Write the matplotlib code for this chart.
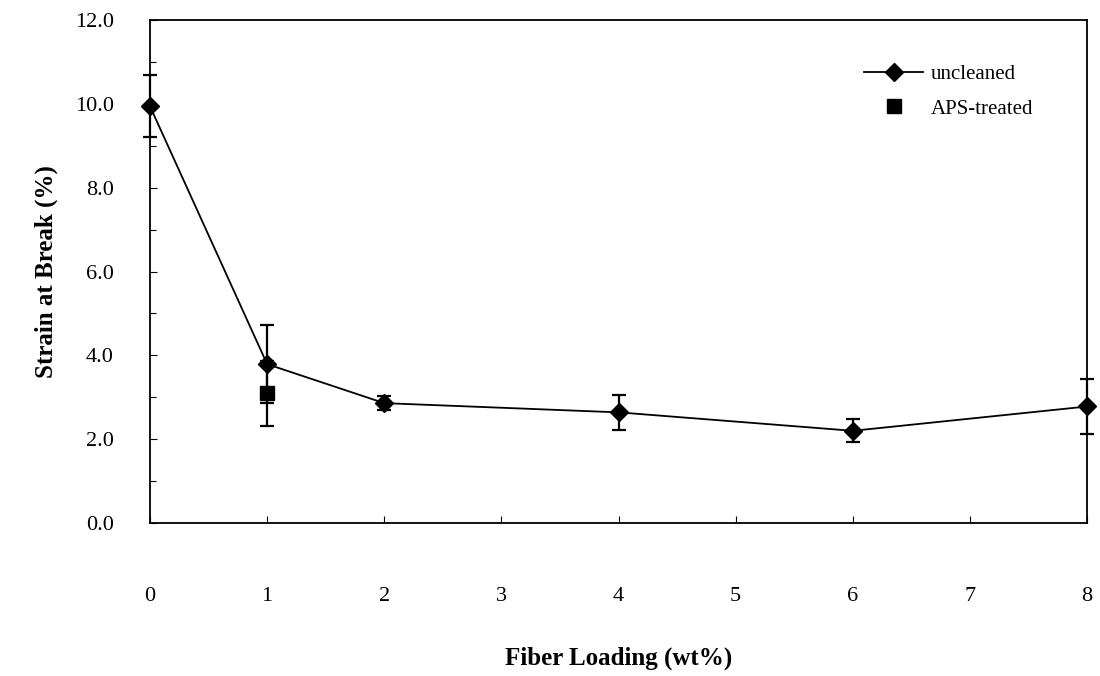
import matplotlib
matplotlib.use("Agg")
import matplotlib.pyplot as plt
from matplotlib.ticker import MultipleLocator, FormatStrFormatter

plt.rcParams['font.family'] = ['Liberation Serif', 'DejaVu Serif']

# Fiber loading (wt%) and strain at break (%) with standard deviations
loading_uncleaned = [0, 1, 2, 4, 6, 8]
strain_uncleaned = [9.94, 3.79, 2.86, 2.64, 2.20, 2.78]
err_uncleaned = [0.74, 0.93, 0.16, 0.41, 0.27, 0.65]

loading_aps = [1]
strain_aps = [3.09]
err_aps = [0.78]

x_ticks = [0, 1, 2, 3, 4, 5, 6, 7, 8]
y_ticks = [0, 2, 4, 6, 8, 10, 12]

fig = plt.figure(figsize=(11, 6.76), dpi=100)
ax = fig.add_axes([0.1364, 0.2263, 0.8518, 0.7441])

ax.errorbar(loading_uncleaned, strain_uncleaned, yerr=err_uncleaned,
            color='black', marker='D', markersize=9, linewidth=1.3,
            elinewidth=1.6, capsize=5, capthick=1.6, label='uncleaned',
            clip_on=False, zorder=3)
ax.errorbar(loading_aps, strain_aps, yerr=err_aps,
            color='black', marker='s', markersize=10, linestyle='none',
            elinewidth=1.6, capsize=5, capthick=1.6, label='APS-treated',
            clip_on=False, zorder=3)

ax.set_xlim(0, 8)
ax.set_ylim(0, 12)
ax.set_xticks(x_ticks)
ax.set_yticks(y_ticks)
ax.yaxis.set_major_formatter(FormatStrFormatter('%.1f'))
ax.yaxis.set_minor_locator(MultipleLocator(1))

ax.tick_params(axis='both', which='major', direction='in', length=5,
               width=0.8, labelsize=16)
ax.tick_params(axis='y', which='major', pad=26)
ax.tick_params(axis='x', which='major', pad=46)
ax.tick_params(axis='y', which='minor', direction='in', length=4, width=0.8)

for side in ax.spines.values():
    side.set_linewidth(1.3)
    side.set_color('black')

ax.set_xlabel('Fiber Loading (wt%)', fontsize=18, fontweight='bold',
              labelpad=29)
ax.set_ylabel('Strain at Break (%)', fontsize=18, fontweight='bold',
              labelpad=12)

handles, labels = ax.get_legend_handles_labels()
handles = [h[0] for h in handles]
ax.legend(handles, labels, loc='upper left', bbox_to_anchor=(0.7625, 0.911),
          frameon=False, fontsize=15, handlelength=2.8, handletextpad=0.4,
          labelspacing=0.7, borderaxespad=0, borderpad=0)

fig.savefig('out.png', dpi=100)
